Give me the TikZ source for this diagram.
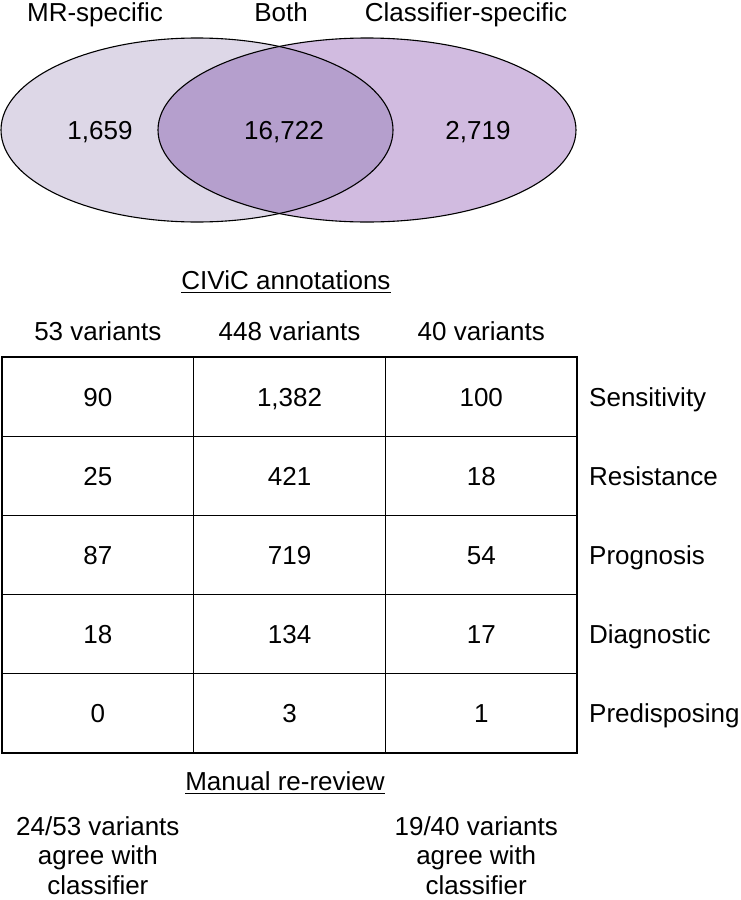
\documentclass[tikz,border=0pt]{standalone}
\usepackage{fontspec}
\setmainfont{Liberation Sans}
\usepackage{tikz}
\usetikzlibrary{positioning}
\definecolor{mrFill}{RGB}{221,215,231}
\definecolor{clFill}{RGB}{209,187,224}
\definecolor{bothFill}{RGB}{181,159,205}
\tikzset{
  vennln/.style={line width=1.1pt},
  gridln/.style={line width=1.3pt, line cap=rect},
  ulin/.style={line width=1pt},
  txt/.style={inner sep=0pt, anchor=base, font=\fontsize{26}{29.5}\selectfont},
  rowlab/.style={txt, anchor=base west},
}
\newcommand{\gridx}[1]{2+191.7*(#1)}
\newcommand{\gridy}[1]{357+79.2*(#1)}

\begin{document}
\begin{tikzpicture}[x=1pt,y=-1pt]
    \useasboundingbox (0,0) rectangle (740,900);
    % venn diagram
    \fill[mrFill] (197,130) ellipse [x radius=196, y radius=92];
    \fill[clFill] (367,130) ellipse [x radius=209, y radius=92];
    \begin{scope}
      \clip (197,130) ellipse [x radius=196, y radius=92];
      \fill[bothFill] (367,130) ellipse [x radius=209, y radius=92];
    \end{scope}
    \draw[vennln] (197,130) ellipse [x radius=196, y radius=92];
    \draw[vennln] (367,130) ellipse [x radius=209, y radius=92];
    \node[txt] (mrlab) at (95,21) {MR-specific};
    \node[txt] (bothlab) at (281,21) {Both};
    \node[txt] (cllab) at (466,21) {Classifier-specific};
    \node[txt] (mrnum) at (100,139) {1,659};
    \node[txt] (bothnum) at (284,139) {16,722};
    \node[txt] (clnum) at (478,139) {2,719};
    % CIViC annotations
    \node[txt] (civic) at (286,289) {CIViC annotations};
    \draw[ulin] ([yshift=-3.5pt]civic.base west) -- ([yshift=-3.5pt]civic.base east);
    \foreach \i/\lab in {0/53 variants, 1/448 variants, 2/40 variants} {
      \node[txt] (head\i) at ({\gridx{\i+0.5}},340) {\lab};
    }
    \foreach \i in {0,...,3}
      \draw[gridln] ({\gridx{\i}},{\gridy{0}}) -- ({\gridx{\i}},{\gridy{5}});
    \foreach \j in {0,...,5}
      \draw[gridln] ({\gridx{0}},{\gridy{\j}}) -- ({\gridx{3}},{\gridy{\j}});
    \foreach \a/\b/\c/\lab [count=\j from 0] in {90/{1,382}/100/Sensitivity,
        25/421/18/Resistance, 87/719/54/Prognosis, 18/134/17/Diagnostic,
        0/3/1/Predisposing} {
      \node[txt] (cell\j-0) at ({\gridx{0.5}},{\gridy{\j}+49}) {\a};
      \node[txt] (cell\j-1) at ({\gridx{1.5}},{\gridy{\j}+49}) {\b};
      \node[txt] (cell\j-2) at ({\gridx{2.5}},{\gridy{\j}+49}) {\c};
      \node[rowlab] (type\j) at (589,{\gridy{\j}+49}) {\lab};
    }
    % manual re-review
    \node[txt] (manual) at (285,790) {Manual re-review};
    \draw[ulin] ([yshift=-3.5pt]manual.base west) -- ([yshift=-3.5pt]manual.base east);
    \node[txt, anchor=north, align=center] (mragree) at ({\gridx{0.5}},816)
      {24/53 variants\\agree with\\classifier};
    \node[txt, anchor=north, align=center] (clagree) at ({\gridx{2.5}-5},816)
      {19/40 variants\\agree with\\classifier};
\end{tikzpicture}
\end{document}
